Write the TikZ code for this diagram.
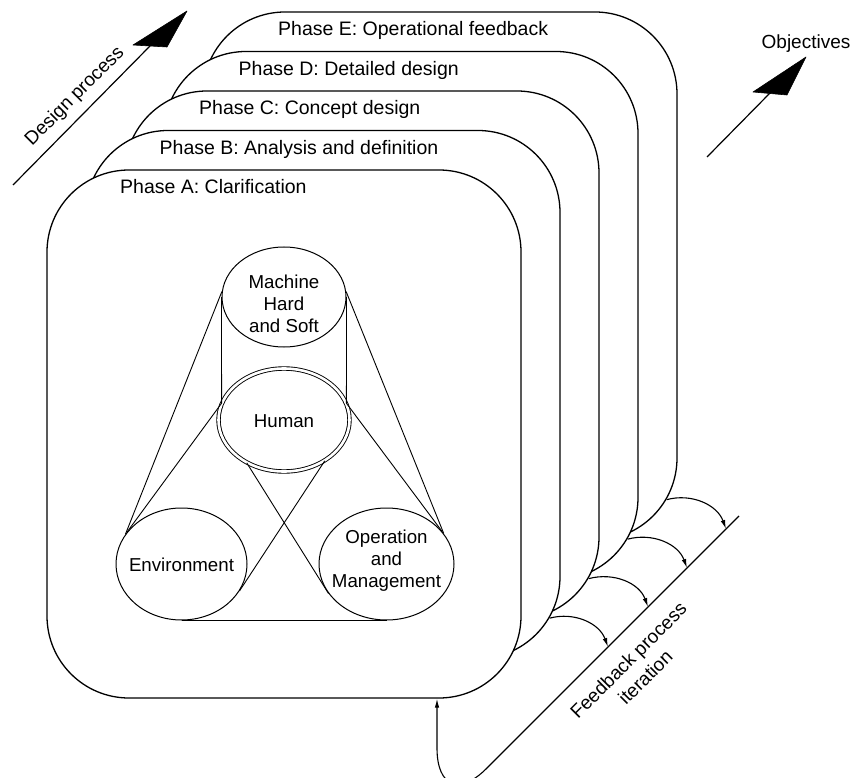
\documentclass[tikz,border=0pt]{standalone}
\usepackage{fontspec}
\setmainfont{Liberation Sans}
\usetikzlibrary{shapes.geometric,arrows.meta,calc}

\begin{document}
\begin{tikzpicture}[x=1pt,y=1pt,
  card/.style={draw, line width=1.3pt, fill=white, rounded corners=82pt,
    minimum width=474pt, minimum height=528pt, inner sep=0pt},
  phasetxt/.style={anchor=base west, inner sep=0pt, font=\fontsize{19.5}{23}\selectfont},
  blob/.style={draw, ellipse, line width=1pt, inner sep=0pt},
  intxt/.style={align=center, inner sep=0pt, font=\fontsize{18.7}{22}\selectfont},
  lnk/.style={line width=0.9pt},
  fb/.style={line width=1.1pt, -{Latex[length=9pt,width=4.5pt]}},
  bigtip/.style={fill=black, draw=black, line width=0.6pt, line join=round},
  sidetxt/.style={inner sep=0pt, font=\fontsize{19}{24}\selectfont},
]
\useasboundingbox (0,0) rectangle (854,-778);

% stacked phase cards, back to front
\node[card] (cE) at (440,-276) {};
\node[phasetxt] (tE) at (278,-36) {Phase E: Operational feedback};
\node[card] (cD) at (401,-315.5) {};
\node[phasetxt] (tD) at (238.5,-75.5) {Phase D: Detailed design};
\node[card] (cC) at (362,-355) {};
\node[phasetxt] (tC) at (199,-115) {Phase C: Concept design};
\node[card] (cB) at (323,-394.5) {};
\node[phasetxt] (tB) at (159.5,-154.5) {Phase B: Analysis and definition};
\node[card] (cA) at (284,-434) {};
\node[phasetxt] (tA) at (120,-194) {Phase A: Clarification};

% the four elements of the system
\node[blob, minimum width=124pt, minimum height=100pt] (mach) at (284,-297) {};
\node[blob, double, double distance=2.6pt, line width=0.9pt,
      minimum width=131pt, minimum height=103pt] (hum) at (284,-420) {};
\node[blob, minimum width=131pt, minimum height=112pt] (env) at (181.5,-564) {};
\node[blob, minimum width=135pt, minimum height=112pt] (op) at (386.5,-564) {};

\node[intxt] (machT) at (284,-304) {Machine\\Hard\\and Soft};
\node[intxt] (humT) at (284,-421) {Human};
\node[intxt] (envT) at (181.5,-565) {Environment};
\node[intxt] (opT) at (386.5,-561) {Operation\\and\\Management};

% links between the elements
\draw[lnk] (mach.175) -- (env.152);
\draw[lnk] (mach.5) -- (op.28);
\draw[lnk] (mach.180) -- (hum.165);
\draw[lnk] (mach.0) -- (hum.15);
\draw[lnk] (hum.165) -- (env.150);
\draw[lnk] (hum.15) -- (op.30);
\draw[lnk] (hum.229) -- (op.207);
\draw[lnk] (hum.315) -- (env.335);
\draw[lnk] (env.south) -- (op.south);

% design process arrow
\coordinate (dpS) at (13,-185);
\coordinate (dpB) at (150,-46);
\draw[line width=1.2pt] (dpS) -- (dpB);
\filldraw[bigtip] (187,-11) -- (133,-45) -- (167,-47) -- cycle;
\node[sidetxt, rotate=45] (dpT) at (75,-96.5) {Design process};

% objectives arrow
\coordinate (obS) at (707,-157);
\coordinate (obB) at (770,-93);
\draw[line width=1.2pt] (obS) -- (obB);
\filldraw[bigtip] (806,-57) -- (753,-92) -- (787,-95) -- cycle;
\node[sidetxt, anchor=base] (obT) at (806,-49) {Objectives};

% feedback iteration line
\coordinate (fbTop) at (739,-516);
\coordinate (fbBend) at (437,-818);
\draw[fb, rounded corners=70pt] (fbTop) -- (fbBend) -- (cA.south -| fbBend);

\coordinate (sE) at ($(cE.south east)+(-11,41)$);
\coordinate (sD) at ($(cD.south east)+(-11,41)$);
\coordinate (sC) at ($(cC.south east)+(-11,41)$);
\coordinate (sB) at ($(cB.south east)+(-11,41)$);
\coordinate (t1) at ($(fbTop)+(-13,-13)$);
\coordinate (t2) at ($(fbTop)+(-52,-52)$);
\coordinate (t3) at ($(fbTop)+(-91,-91)$);
\coordinate (t4) at ($(fbTop)+(-131,-131)$);
\draw[fb] (sE) to[out=15,in=110] (t1);
\draw[fb] (sD) to[out=15,in=110] (t2);
\draw[fb] (sC) to[out=15,in=110] (t3);
\draw[fb] (sB) to[out=15,in=110] (t4);

\node[sidetxt, rotate=45, align=center] (fbT) at (636.75,-668.75) {Feedback process\\iteration};
\end{tikzpicture}
\end{document}
